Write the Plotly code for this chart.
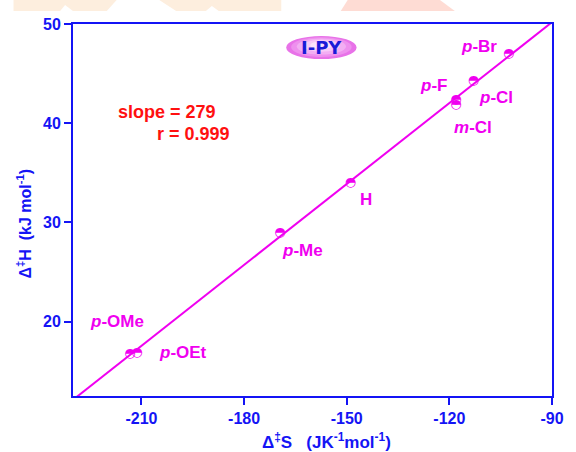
import numpy as np
import plotly.graph_objects as go

# Activation parameters for the substituted series (I-PY)
substituents = ["p-OMe", "p-OEt", "p-Me", "H", "m-Cl", "p-F", "p-Cl", "p-Br"]
dS = [-213.4, -211.3, -169.5, -148.9, -118.1, -118.1, -113.0, -102.7]   # J K-1 mol-1
dH = [16.8, 16.9, 29.0, 34.0, 41.9, 42.4, 44.3, 47.0]                   # kJ mol-1
label_html = ["<i>p</i>-OMe", "<i>p</i>-OEt", "<i>p</i>-Me", "H",
              "<i>m</i>-Cl", "<i>p</i>-F", "<i>p</i>-Cl", "<i>p</i>-Br"]
slope_text = "slope = 279"
r_text = "r = 0.999"
x_ticks = [-210, -180, -150, -120, -90]
y_ticks = [20, 30, 40, 50]

# label offsets (pixels) from each point
label_shift = [(-13, 32), (46, 0), (22, -18), (16, -17),
               (17, -23), (-22, 14), (23, -17), (-30, 7)]

BLUE = "#1414f5"
MAG = "#f000f0"
RED = "#ff1010"
FONT = "Liberation Sans, Arial, sans-serif"

# isokinetic line
k, b = np.polyfit(dS, dH, 1)
xl = np.array([-235.0, -85.0])
yl = k * xl + b

fig = go.Figure()
fig.add_trace(go.Scatter(x=xl, y=yl, mode="lines",
                         line=dict(color=MAG, width=2), hoverinfo="skip"))
fig.add_trace(go.Scatter(x=dS, y=dH, mode="text", text=["\u25D3"] * len(dS),
                         textposition="middle center",
                         textfont=dict(family="DejaVu Sans", size=13, color=MAG),
                         cliponaxis=False, hoverinfo="skip"))

W, H = 576, 452
L, R, T, B = 73, 20, 24, 56
pw, ph = W - L - R, H - T - B


def px2paper(px, py):
    return (px - L) / pw, (H - B - py) / ph


annotations = []
for xi, yi, txt, (sx, sy) in zip(dS, dH, label_html, label_shift):
    annotations.append(dict(x=xi, y=yi, xref="x", yref="y", text="<b>" + txt + "</b>",
                            showarrow=False, xshift=sx, yshift=sy,
                            font=dict(family=FONT, size=17, color=MAG)))

annotations.append(dict(x=-202.5, y=41.1, xref="x", yref="y", text="<b>" + slope_text + "</b>",
                        showarrow=False, font=dict(family=FONT, size=18, color=RED)))
annotations.append(dict(x=-194.9, y=38.9, xref="x", yref="y", text="<b>" + r_text + "</b>",
                        showarrow=False, font=dict(family=FONT, size=18, color=RED)))

# series tag in a pink ellipse
ec_x, ec_y, ew, eh = -157.4, 47.63, 10.3, 1.16
shapes = []
for s, c in [(1.0, "#e872e8"), (0.86, "#ee90ee"), (0.7, "#f3aef3"),
             (0.52, "#f8caf8"), (0.32, "#fce2fc")]:
    shapes.append(dict(type="circle", xref="x", yref="y",
                       x0=ec_x - ew * s, x1=ec_x + ew * s,
                       y0=ec_y - eh * s + (1 - s) * 0.35, y1=ec_y + eh * s + (1 - s) * 0.35,
                       line=dict(width=0), fillcolor=c, layer="above"))
annotations.append(dict(x=ec_x, y=ec_y, xref="x", yref="y", text="<b>I-PY</b>",
                        showarrow=False, font=dict(family="DejaVu Sans", size=18, color="#1a1ad8")))

# faint header bands along the top edge
bands = [
    ([(13, 0), (117, 0), (107, 11), (73, 11), (65, 5), (60, 11), (13, 11)], "#fdeede"),
    ([(160, 0), (283, 0), (283, 11), (220, 11), (213, 6), (207, 11), (177, 11)], "#fdeede"),
    ([(350, 0), (443, 0), (458, 11), (343, 11)], "#fedcd4"),
]
for pts, col in bands:
    path = ""
    for i, (px, py) in enumerate(pts):
        u, v = px2paper(px, py)
        path += ("M" if i == 0 else "L") + f"{u:.4f},{v:.4f} "
    path += "Z"
    shapes.append(dict(type="path", xref="paper", yref="paper", path=path,
                       fillcolor=col, line=dict(width=0), layer="below"))

# axis titles
ux, uy = px2paper(329, 454)
annotations.append(dict(x=ux, y=uy, xref="paper", yref="paper", showarrow=False,
                        text="<b>\u0394<sup>\u2021</sup>S\u00a0\u00a0\u00a0(JK<sup>-1</sup>mol<sup>-1</sup>)</b>",
                        font=dict(family=FONT, size=17, color=BLUE)))
ux, uy = px2paper(12, 224)
annotations.append(dict(x=ux, y=uy, xref="paper", yref="paper", showarrow=False, textangle=-90,
                        text="<b>\u0394<sup>\u2021</sup>H\u00a0\u00a0(kJ mol<sup>-1</sup>)</b>",
                        font=dict(family=FONT, size=16, color=BLUE)))

axis_common = dict(showgrid=False, zeroline=False, showline=True, mirror=True,
                   linecolor=BLUE, linewidth=2, ticks="outside", ticklen=7,
                   tickwidth=2, tickcolor=BLUE,
                   tickfont=dict(family=FONT, size=16, color=BLUE))

fig.update_layout(
    width=W, height=H,
    margin=dict(l=L, r=R, t=T, b=B),
    paper_bgcolor="white", plot_bgcolor="white",
    showlegend=False,
    xaxis=dict(range=[-230, -90], tickvals=x_ticks,
               ticktext=[f"<b>{v}</b>" for v in x_ticks], **axis_common),
    yaxis=dict(range=[12.5, 50], tickvals=y_ticks,
               ticktext=[f"<b>{v}</b>" for v in y_ticks], **axis_common),
    annotations=annotations,
    shapes=shapes,
)

fig.write_html("out.html")
